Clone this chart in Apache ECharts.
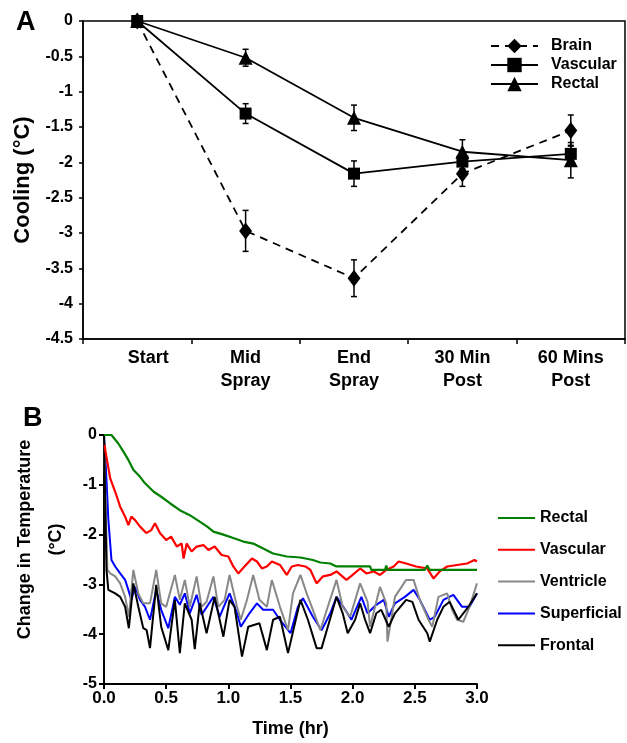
<!DOCTYPE html>
<html><head><meta charset="utf-8">
<script src="https://cdn.jsdelivr.net/npm/echarts/dist/echarts.min.js"></script>
<style>html,body{margin:0;padding:0;background:#fff}#c{width:627px;height:743px}</style>
</head><body><div id="c"></div>
<script>
// ---------- Panel A data ----------
const categoriesA = ['Start', 'Mid\nSpray', 'End\nSpray', '30 Min\nPost', '60 Mins\nPost'];
const brainMean    = [0, -2.97, -3.64, -2.16, -1.55];
const brainErr     = [0, 0.29, 0.26, 0.18, 0.22];
const vascularMean = [0, -1.31, -2.16, -1.99, -1.88];
const vascularErr  = [0, 0.14, 0.18, 0.10, 0.12];
const rectalMean   = [0, -0.52, -1.37, -1.85, -1.97];
const rectalErr    = [0, 0.12, 0.18, 0.17, 0.25];
const yTicksA = [0, -0.5, -1, -1.5, -2, -2.5, -3, -3.5, -4, -4.5];

// ---------- Panel B data (hours, °C change) ----------
const rectalT = [0,0.06,0.115,0.155,0.196,0.236,0.29,0.33,0.4,0.46,0.53,0.61,0.69,0.77,0.83,0.88,0.96,1.04,1.12,1.2,1.28,1.36,1.47,1.58,1.68,1.74,1.82,1.87,1.95,2.14,2.15,2.26,2.27,2.28,2.58,2.6,2.62,3.0];
const rectalV = [0,0,-0.17,-0.33,-0.5,-0.7,-0.84,-0.97,-1.14,-1.24,-1.37,-1.51,-1.61,-1.74,-1.84,-1.94,-2.0,-2.07,-2.14,-2.18,-2.28,-2.38,-2.44,-2.46,-2.51,-2.56,-2.58,-2.64,-2.64,-2.64,-2.71,-2.71,-2.62,-2.71,-2.71,-2.62,-2.71,-2.71];

const vascT = [0.005,0.012,0.05,0.09,0.13,0.17,0.196,0.22,0.25,0.29,0.34,0.38,0.41,0.45,0.5,0.54,0.585,0.625,0.64,0.665,0.705,0.745,0.8,0.84,0.89,0.946,1.0,1.04,1.08,1.13,1.19,1.23,1.27,1.31,1.35,1.415,1.47,1.51,1.56,1.62,1.66,1.71,1.76,1.82,1.87,1.95,2.0,2.06,2.11,2.17,2.22,2.27,2.33,2.37,2.43,2.51,2.6,2.65,2.7,2.76,2.84,2.92,2.98,3.0];
const vascV = [-0.2,-0.33,-0.87,-1.14,-1.44,-1.64,-1.81,-1.64,-1.71,-1.84,-1.97,-1.91,-1.77,-1.97,-2.11,-2.04,-2.24,-2.18,-2.48,-2.18,-2.34,-2.24,-2.21,-2.31,-2.24,-2.41,-2.44,-2.64,-2.78,-2.64,-2.48,-2.54,-2.68,-2.64,-2.54,-2.61,-2.81,-2.64,-2.61,-2.64,-2.71,-2.98,-2.84,-2.81,-2.74,-2.91,-2.81,-2.68,-2.78,-2.74,-2.81,-2.71,-2.64,-2.54,-2.58,-2.64,-2.68,-2.88,-2.74,-2.64,-2.61,-2.58,-2.51,-2.54];

const ventT = [0,0.016,0.027,0.05,0.09,0.13,0.17,0.2,0.236,0.276,0.316,0.37,0.42,0.46,0.5,0.57,0.61,0.65,0.69,0.745,0.785,0.825,0.88,0.92,0.97,1.01,1.07,1.1,1.15,1.2,1.25,1.31,1.35,1.415,1.48,1.52,1.58,1.63,1.68,1.74,1.8,1.87,1.92,1.98,2.06,2.12,2.14,2.22,2.27,2.28,2.34,2.43,2.49,2.54,2.61,2.64,2.69,2.76,2.8,2.84,2.89,2.94,3.0];
const ventV = [0,-1.7,-2.71,-2.78,-2.84,-2.98,-3.25,-3.65,-2.71,-3.18,-3.38,-3.38,-2.71,-3.38,-3.45,-2.81,-3.31,-2.91,-3.45,-2.84,-3.45,-3.35,-2.84,-3.45,-3.31,-2.81,-3.45,-3.71,-3.31,-2.81,-3.31,-3.45,-2.91,-3.45,-3.92,-3.18,-2.81,-3.18,-3.51,-3.92,-3.45,-2.91,-3.45,-3.65,-2.98,-3.35,-3.85,-3.05,-3.38,-4.15,-3.25,-2.91,-2.91,-3.31,-3.71,-3.85,-3.25,-3.18,-3.51,-3.71,-3.75,-3.45,-2.98];

const supT = [0,0.016,0.035,0.06,0.09,0.13,0.17,0.196,0.22,0.25,0.29,0.33,0.37,0.42,0.46,0.517,0.57,0.61,0.65,0.69,0.745,0.785,0.88,0.93,0.97,1.01,1.07,1.1,1.17,1.23,1.28,1.36,1.415,1.5,1.56,1.6,1.68,1.75,1.82,1.87,1.94,1.99,2.07,2.12,2.19,2.25,2.29,2.34,2.42,2.49,2.54,2.62,2.66,2.73,2.81,2.88,2.94,3.0];
const supV = [0,-0.7,-1.7,-2.51,-2.64,-2.78,-2.91,-3.11,-3.31,-3.05,-3.31,-3.45,-3.71,-3.11,-3.51,-3.88,-3.25,-3.41,-3.18,-3.58,-3.21,-3.61,-3.25,-3.65,-3.41,-3.18,-3.58,-3.85,-3.58,-3.38,-3.51,-3.51,-3.71,-3.98,-3.45,-3.28,-3.65,-3.92,-3.58,-3.25,-3.51,-3.71,-3.25,-3.58,-3.41,-3.31,-3.65,-3.38,-3.25,-3.11,-3.31,-3.71,-3.65,-3.31,-3.21,-3.45,-3.45,-3.18];

const frontT = [0,0.02,0.035,0.09,0.13,0.17,0.2,0.236,0.276,0.316,0.343,0.37,0.42,0.46,0.517,0.57,0.61,0.65,0.705,0.73,0.77,0.825,0.89,0.96,1.01,1.05,1.11,1.16,1.25,1.31,1.36,1.415,1.48,1.58,1.64,1.71,1.75,1.8,1.87,1.92,1.96,2.02,2.06,2.1,2.14,2.19,2.23,2.29,2.34,2.43,2.48,2.53,2.6,2.62,2.68,2.73,2.78,2.85,2.93,3.0];
const frontV = [0,-2.71,-3.11,-3.18,-3.25,-3.45,-3.88,-2.98,-3.45,-3.88,-3.92,-4.28,-3.01,-3.85,-4.32,-3.31,-4.38,-3.38,-3.71,-4.3,-3.38,-3.98,-3.25,-4.05,-3.31,-3.45,-4.45,-3.85,-3.78,-4.32,-3.71,-3.65,-4.38,-3.31,-3.71,-4.28,-4.28,-3.85,-3.25,-3.58,-3.98,-3.71,-3.38,-3.71,-3.98,-3.58,-3.51,-3.85,-3.58,-3.31,-3.35,-3.71,-3.98,-4.15,-3.71,-3.45,-3.35,-3.71,-3.45,-3.18];

const xTicksB = [0, 0.5, 1, 1.5, 2, 2.5, 3];
const yTicksB = [0, -1, -2, -3, -4, -5];

// ---------- helpers ----------
const FONT = "'Liberation Sans', Arial, Helvetica, sans-serif";
const pair = (t, v) => t.map((x, i) => [x, v[i]]);
const errData = (m, e) => m.map((v, i) => [i, v - e[i], v + e[i]]).filter((d, i) => e[i] > 0);
function errRender(params, api) {
  const x = api.value(0);
  const lo = api.coord([x, api.value(1)]);
  const hi = api.coord([x, api.value(2)]);
  const w = 3;
  const st = { stroke: '#000', lineWidth: 1.5 };
  return { type: 'group', children: [
    { type: 'line', shape: { x1: lo[0], y1: lo[1], x2: hi[0], y2: hi[1] }, style: st },
    { type: 'line', shape: { x1: lo[0] - w, y1: lo[1], x2: lo[0] + w, y2: lo[1] }, style: st },
    { type: 'line', shape: { x1: hi[0] - w, y1: hi[1], x2: hi[0] + w, y2: hi[1] }, style: st }
  ]};
}
const catLabelFmt = v => v === 'Start' ? '{s|Start}' : v;

const chart = echarts.init(document.getElementById('c'), null, { renderer: 'canvas' });
chart.setOption({
  animation: false,
  backgroundColor: '#fff',
  textStyle: { fontFamily: FONT },
  title: [
    { text: 'A', left: 11, top: 4, textStyle: { fontSize: 27, fontWeight: 'bold', fontFamily: FONT, color: '#000' } },
    { text: 'B', left: 18, top: 400, textStyle: { fontSize: 27, fontWeight: 'bold', fontFamily: FONT, color: '#000' } }
  ],
  legend: [
    {
      data: ['Brain', 'Vascular', 'Rectal'],
      orient: 'vertical', left: 485, top: 33,
      itemWidth: 47, itemHeight: 18, itemGap: 3,
      textStyle: { fontSize: 16, fontWeight: 'bold', fontFamily: FONT, color: '#000', padding: [0, 0, 0, 8] }
    },
    {
      data: ['Rectal (B)', 'Vascular (B)', 'Ventricle', 'Superficial', 'Frontal'],
      formatter: n => n.replace(' (B)', ''),
      orient: 'vertical', left: 493, top: 505, icon: 'rect',
      itemWidth: 37, itemHeight: 2, itemGap: 15.8,
      textStyle: { fontSize: 16, fontWeight: 'bold', fontFamily: FONT, color: '#000' }
    }
  ],
  grid: [
    { left: 83, top: 21, width: 542, height: 318, show: true, borderColor: '#000', borderWidth: 1.5, backgroundColor: 'transparent' },
    { left: 104, top: 435, width: 373, height: 249 }
  ],
  xAxis: [
    {
      gridIndex: 0, type: 'category', data: categoriesA, boundaryGap: true,
      axisLine: { show: true, onZero: false, lineStyle: { color: '#000', width: 1.5 } },
      axisTick: { show: true, inside: false, length: 5, alignWithLabel: false, lineStyle: { color: '#000', width: 1.5 } },
      axisLabel: { color: '#000', fontSize: 18, fontWeight: 'bold', lineHeight: 23, margin: 8, fontFamily: FONT, interval: 0,
        formatter: catLabelFmt,
        rich: { s: { fontSize: 18, fontWeight: 'bold', fontFamily: FONT, color: '#000', lineHeight: 23, padding: [0, 0, 0, 22] } } },
      splitLine: { show: false }
    },
    {
      gridIndex: 1, type: 'value', min: 0, max: 3, interval: 0.5,
      axisLine: { show: true, onZero: false, lineStyle: { color: '#000', width: 2 } },
      axisTick: { show: true, length: 5, lineStyle: { color: '#000', width: 2 } },
      axisLabel: { color: '#000', fontSize: 17, fontWeight: 'bold', margin: 6, fontFamily: FONT, formatter: v => v.toFixed(1) },
      splitLine: { show: false },
      name: 'Time (hr)', nameLocation: 'middle', nameGap: 36,
      nameTextStyle: { color: '#000', fontSize: 18, fontWeight: 'bold', fontFamily: FONT }
    }
  ],
  yAxis: [
    {
      gridIndex: 0, type: 'value', min: -4.5, max: 0, interval: 0.5,
      axisLine: { show: true, onZero: false, lineStyle: { color: '#000', width: 1.5 } },
      axisTick: { show: true, length: 4, lineStyle: { color: '#000', width: 1.5 } },
      axisLabel: { color: '#000', fontSize: 16, fontWeight: 'bold', margin: 10, fontFamily: FONT },
      splitLine: { show: false },
      name: 'Cooling (°C)', nameLocation: 'middle', nameRotate: 90, nameGap: 49,
      nameTextStyle: { color: '#000', fontSize: 22, fontWeight: 'bold', fontFamily: FONT }
    },
    {
      gridIndex: 1, type: 'value', min: -5, max: 0, interval: 1,
      axisLine: { show: true, onZero: false, lineStyle: { color: '#000', width: 2 } },
      axisTick: { show: true, length: 5, lineStyle: { color: '#000', width: 2 } },
      axisLabel: { color: '#000', fontSize: 16, fontWeight: 'bold', margin: 7, fontFamily: FONT },
      splitLine: { show: false },
      name: 'Change in Temperature\n(°C)', nameLocation: 'middle', nameRotate: 90, nameGap: 28,
      nameTextStyle: { color: '#000', fontSize: 18, fontWeight: 'bold', fontFamily: FONT, lineHeight: 31, padding: [0, 0, 0, 40] }
    }
  ],
  series: [
    // Panel A
    { name: 'Brain', type: 'line', xAxisIndex: 0, yAxisIndex: 0, data: brainMean, z: 3,
      symbol: 'diamond', symbolSize: [13, 17], itemStyle: { color: '#000' },
      lineStyle: { color: '#000', width: 1.8, type: [8, 6] } },
    { name: 'Vascular', type: 'line', xAxisIndex: 0, yAxisIndex: 0, data: vascularMean, z: 4,
      symbol: 'rect', symbolSize: 12, itemStyle: { color: '#000' },
      lineStyle: { color: '#000', width: 1.8 } },
    { name: 'Rectal', type: 'line', xAxisIndex: 0, yAxisIndex: 0, data: rectalMean, z: 4,
      symbol: 'triangle', symbolSize: 14, itemStyle: { color: '#000' },
      lineStyle: { color: '#000', width: 1.8 } },
    { type: 'custom', xAxisIndex: 0, yAxisIndex: 0, renderItem: errRender, data: errData(brainMean, brainErr), z: 5, encode: { x: 0, y: [1, 2] } },
    { type: 'custom', xAxisIndex: 0, yAxisIndex: 0, renderItem: errRender, data: errData(vascularMean, vascularErr), z: 5, encode: { x: 0, y: [1, 2] } },
    { type: 'custom', xAxisIndex: 0, yAxisIndex: 0, renderItem: errRender, data: errData(rectalMean, rectalErr), z: 5, encode: { x: 0, y: [1, 2] } },
    // Panel B
    { name: 'Superficial', type: 'line', xAxisIndex: 1, yAxisIndex: 1, data: pair(supT, supV), symbol: 'none',
      itemStyle: { color: '#0000ff' }, lineStyle: { color: '#0000ff', width: 2 } },
    { name: 'Ventricle', type: 'line', xAxisIndex: 1, yAxisIndex: 1, data: pair(ventT, ventV), symbol: 'none',
      itemStyle: { color: '#888888' }, lineStyle: { color: '#888888', width: 2 } },
    { name: 'Frontal', type: 'line', xAxisIndex: 1, yAxisIndex: 1, data: pair(frontT, frontV), symbol: 'none',
      itemStyle: { color: '#000000' }, lineStyle: { color: '#000000', width: 2 } },
    { name: 'Vascular (B)', type: 'line', xAxisIndex: 1, yAxisIndex: 1, data: pair(vascT, vascV), symbol: 'none',
      itemStyle: { color: '#ff0000' }, lineStyle: { color: '#ff0000', width: 2.2 } },
    { name: 'Rectal (B)', type: 'line', xAxisIndex: 1, yAxisIndex: 1, data: pair(rectalT, rectalV), symbol: 'none',
      itemStyle: { color: '#008000' }, lineStyle: { color: '#008000', width: 2.2 } }
  ]
});
</script>
</body></html>
